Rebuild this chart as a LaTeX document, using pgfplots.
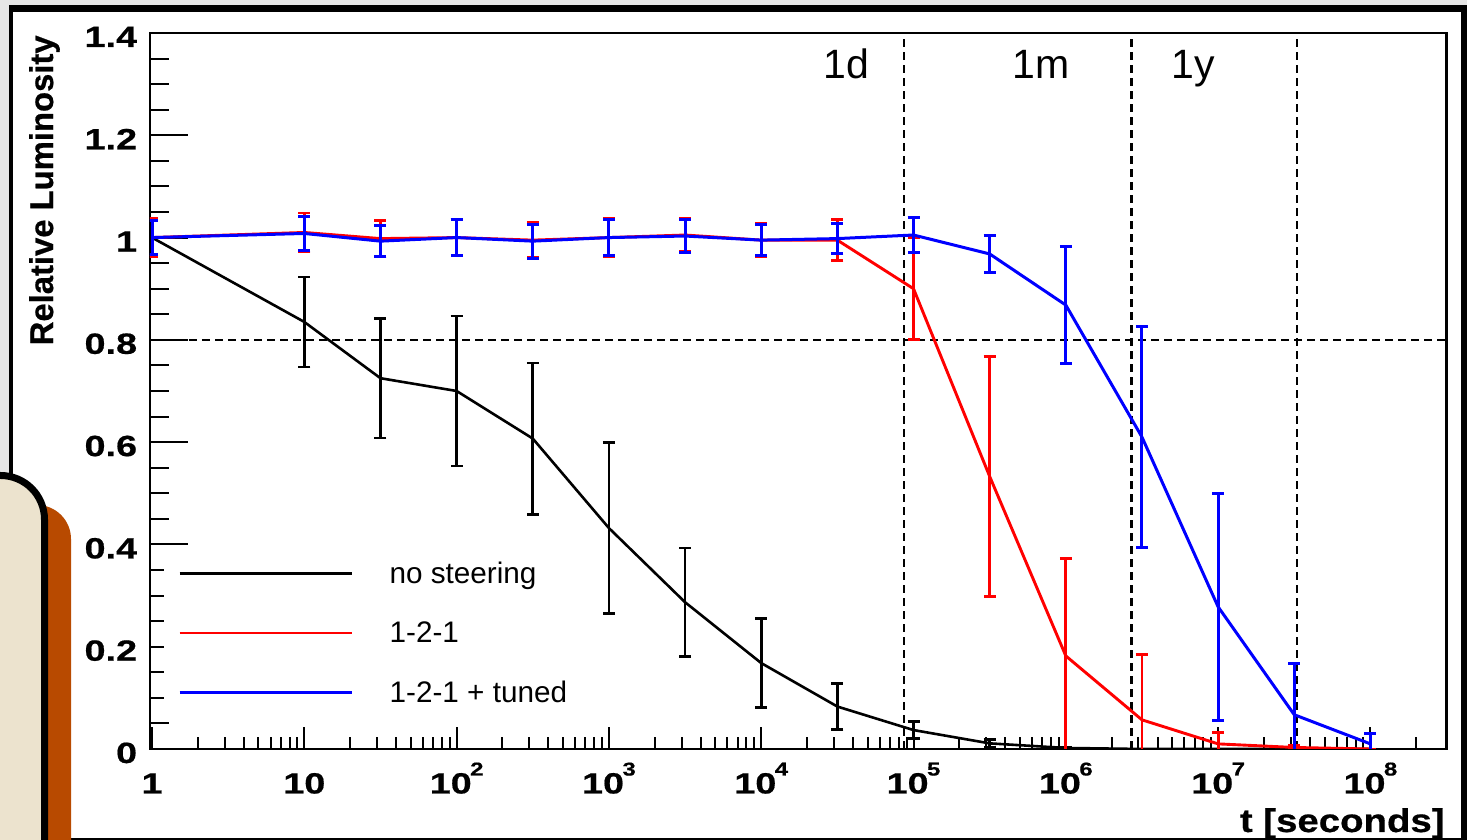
\documentclass[border=0pt]{standalone}
\usepackage{fontspec}
\setmainfont{Liberation Sans}
\usepackage{pgfplots}
\usepackage{pgfplotstable}
\pgfplotsset{compat=1.18}
\newfontfamily\tickfont[FakeStretch=1.29, FakeBold=0.6]{Liberation Sans}
\newfontfamily\xlabfont[FakeStretch=1.17, FakeBold=0.6]{Liberation Sans}
\newfontfamily\ylabfont[FakeBold=0.6]{Liberation Sans}
\newcommand\tk{\tickfont\bfseries\fontsize{14.65}{16}\selectfont}
\newcommand\ex[1]{\hspace{-0.8pt}\raisebox{9pt}{\fontsize{9.3}{9.3}\selectfont #1}}
\definecolor{beige}{RGB}{236,227,206}
\definecolor{rust}{RGB}{184,74,0}
\definecolor{bggray}{RGB}{230,230,230}

\pgfplotstableread{
x y e
1 1.0 0.0
10 0.835 0.088
31.62 0.725 0.117
100 0.70 0.147
316.2 0.607 0.148
1000 0.432 0.167
3162 0.287 0.106
1e4 0.168 0.087
3.162e4 0.083 0.045
1e5 0.037 0.017
3.162e5 0.011 0.008
1e6 0.002 0.002
3.162e6 0.0 0.0
1e7 0.0 0.0
3.162e7 0.0 0.0
1e8 0.0 0.0
}\blacktab

\pgfplotstableread{
x y e
1 1.0 0.037
10 1.01 0.038
31.62 0.998 0.036
100 1.0 0.035
316.2 0.995 0.034
1000 1.0 0.037
3162 1.005 0.032
1e4 0.995 0.033
3.162e4 0.995 0.04
1e5 0.90 0.10
3.162e5 0.533 0.234
1e6 0.182 0.19
3.162e6 0.057 0.127
1e7 0.01 0.023
3.162e7 0.003 0.003
1e8 0.0 0.0
}\redtab

\pgfplotstableread{
x y e
1 1.0 0.033
10 1.008 0.034
31.62 0.993 0.030
100 1.0 0.035
316.2 0.993 0.033
1000 1.0 0.035
3162 1.003 0.033
1e4 0.995 0.030
3.162e4 0.998 0.030
1e5 1.005 0.035
3.162e5 0.968 0.036
1e6 0.868 0.115
3.162e6 0.61 0.216
1e7 0.278 0.222
3.162e7 0.067 0.10
1e8 0.01 0.021
}\bluetab

\begin{document}
\begin{tikzpicture}
% background
\begin{scope}[shift={(0pt,420pt)}, x=0.5pt, y=-0.5pt]
\fill[bggray] (0,0) rectangle (1467,840);
\fill[white] (13,12) rectangle (1461,838);
\end{scope}

% axis A: y ticks and labels
\begin{axis}[
  at={(75pt,45.5pt)}, anchor=south west,
  scale only axis, width=648.25pt, height=358pt,
  xmode=log, xmin=0.97, xmax=3.16e8,
  ymin=0, ymax=1.4,
  axis line style={draw=none},
  xtick=\empty, xmajorticks=false,
  ytick={0,0.2,0.4,0.6,0.8,1,1.2,1.4},
  yticklabels={0,0.2,0.4,0.6,0.8,1,1.2,1.4},
  minor y tick num=3,
  ytick pos=left,
  tick align=inside,
  major tick length=19pt, minor tick length=9.5pt,
  tick style={black, line width=1pt},
  yticklabel style={anchor=base east, inner sep=0pt, xshift=-6.25pt, yshift=-7pt, font=\tk},
]
\end{axis}

% axis B: frame, x ticks, data
\begin{axis}[
  at={(75pt,45.5pt)}, anchor=south west,
  scale only axis, width=648.25pt, height=358pt,
  xmode=log, xmin=0.97, xmax=3.16e8,
  ymin=0, ymax=1.4,
  axis line style={black, line width=1.1pt},
  ytick=\empty, ymajorticks=false,
  xtick={1,10,100,1000,1e4,1e5,1e6,1e7,1e8},
  xticklabels={1,10,10\ex{2},10\ex{3},10\ex{4},10\ex{5},10\ex{6},10\ex{7},10\ex{8}},
  minor xtick={2,3,4,5,6,7,8,9,20,30,40,50,60,70,80,90,200,300,400,500,600,700,800,900,2000,3000,4000,5000,6000,7000,8000,9000,2e4,3e4,4e4,5e4,6e4,7e4,8e4,9e4,2e5,3e5,4e5,5e5,6e5,7e5,8e5,9e5,2e6,3e6,4e6,5e6,6e6,7e6,8e6,9e6,2e7,3e7,4e7,5e7,6e7,7e7,8e7,9e7,2e8},
  xtick pos=bottom,
  tick align=inside,
  major tick length=11pt, minor tick length=6pt,
  tick style={black, line width=1pt},
  xticklabel style={anchor=base, inner sep=0pt, yshift=-22.25pt, font=\tk},
  xlabel={t [seconds]},
  xlabel style={at={(axis description cs:0.99884,-0.11592)}, anchor=base east, inner sep=0pt, font=\xlabfont\bfseries\fontsize{16.4}{18}\selectfont},
  ylabel={Relative Luminosity},
  ylabel style={at={(axis description cs:-0.07482,0.99721)}, anchor=base east, inner sep=0pt, font=\ylabfont\bfseries\fontsize{16.4}{18}\selectfont},
  legend style={at={(0.0108,0.2849)}, anchor=north west, draw=none, fill=white,
    inner xsep=7pt, inner ysep=7pt, row sep=15.75pt, column sep=18.5pt,
    font=\fontsize{14.85}{16}\selectfont,
    nodes={inner sep=0pt, text height=12pt, text depth=2pt}},
  legend cell align=left,
  legend image code/.code={\draw[#1, line width=1.1pt] (0pt,0pt) -- (86pt,0pt);},
]
\addplot[black, line width=1.1pt, dash pattern=on 4pt off 2.5pt, forget plot] coordinates {(8.64e4,0) (8.64e4,1.4)};
\addplot[black, line width=1.1pt, dash pattern=on 4pt off 2.5pt, forget plot] coordinates {(2.7e6,0) (2.7e6,1.4)};
\addplot[black, line width=1.1pt, dash pattern=on 4pt off 2.5pt, forget plot] coordinates {(3.3e7,0) (3.3e7,1.4)};
\addplot[black, line width=1.1pt, dash pattern=on 4pt off 2.5pt, forget plot] coordinates {(0.97,0.8) (3.16e8,0.8)};

\addplot[black, line width=1.3pt, mark=none,
  error bars/.cd, y dir=both, y explicit,
  error bar style={line width=1.3pt},
  error mark options={rotate=90, mark size=3pt, line width=1.3pt}]
  table[x=x, y=y, y error=e] {\blacktab};
\addlegendentry{no steering}
\addplot[red, line width=1.45pt, mark=none,
  error bars/.cd, y dir=both, y explicit,
  error bar style={line width=1.45pt},
  error mark options={rotate=90, mark size=3pt, line width=1.45pt}]
  table[x=x, y=y, y error=e] {\redtab};
\addlegendentry{1-2-1}
\addplot[blue, line width=1.5pt, mark=none,
  error bars/.cd, y dir=both, y explicit,
  error bar style={line width=1.5pt},
  error mark options={rotate=90, mark size=3pt, line width=1.5pt}]
  table[x=x, y=y, y error=e] {\bluetab};
\addlegendentry{1-2-1 + tuned\hspace{7.5pt}}
\end{axis}

% overlays
\begin{scope}[shift={(0pt,420pt)}, x=0.5pt, y=-0.5pt]
\clip (0,0) rectangle (1467,840);
\node[anchor=base, inner sep=0pt, font=\fontsize{20.5}{21}\selectfont] at (846,79) {1d};
\node[anchor=base, inner sep=0pt, font=\fontsize{20.5}{21}\selectfont] at (1041,79) {1m};
\node[anchor=base, inner sep=0pt, font=\fontsize{20.5}{21}\selectfont] at (1193,79) {1y};
\fill[black] (9,5) rectangle (1467,12);
\fill[black] (9,5) rectangle (13,840);
\fill[black] (1461,5) rectangle (1467,840);
\fill[black] (9,838) rectangle (1467,840);
\fill[rust, rounded corners=17pt] (-100,505) rectangle (71,1000);
\filldraw[fill=beige, draw=black, line width=3.5pt, rounded corners=22pt] (-100,475.5) rectangle (44.5,1000);
\end{scope}
\pgfresetboundingbox
\useasboundingbox (0,0) rectangle (733.5pt,420pt);
\end{tikzpicture}
\end{document}
